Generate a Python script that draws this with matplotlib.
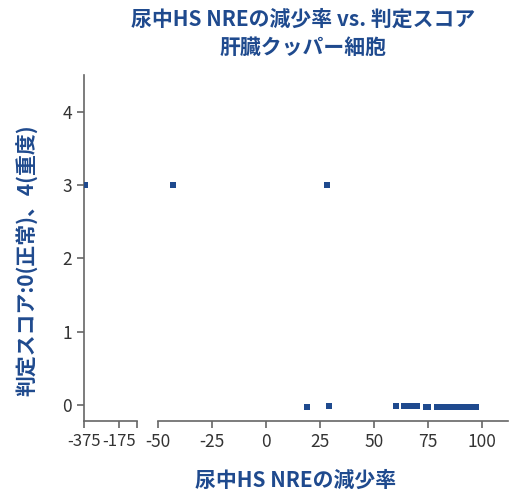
import matplotlib
matplotlib.use("Agg")
import matplotlib.pyplot as plt

plt.rcParams['font.family'] = ['Noto Sans CJK JP', 'DejaVu Sans']

title_lines = ["尿中HS NREの減少率 vs. 判定スコア", "肝臓クッパー細胞"]
x_label = "尿中HS NREの減少率"
y_label = "判定スコア:0(正常)、4(重度)"

reduction = [-370, -43, 28,
             19, 29, 60, 64, 66, 68, 70, 74, 75, 79, 81, 83, 85, 87,
             89, 91, 93, 95, 97]
score = [3, 3, 3,
         -0.03, -0.02, -0.02, -0.02, -0.02, -0.02, -0.02, -0.03, -0.03,
         -0.03, -0.03, -0.03, -0.03, -0.03, -0.03, -0.03, -0.03, -0.03, -0.03]

left_ticks = [-375, -175]
right_ticks = [-50, -25, 0, 25, 50, 75, 100]
y_ticks = [0, 1, 2, 3, 4]

blue = "#1f4a8e"
spine_c = "#666666"
tick_c = "#333333"

fig = plt.figure(figsize=(5.12, 4.97), dpi=100)
W, H = 512, 497
bottom = (H - 421) / H
height = (421 - 75) / H
axL = fig.add_axes([84 / W, bottom, (137 - 84) / W, height])
axR = fig.add_axes([158 / W, bottom, (508 - 158) / W, height])

for ax in (axL, axR):
    ax.scatter(reduction, score, marker='s', s=24, color=blue, linewidths=0, zorder=3)
    ax.set_ylim(-0.22, 4.5)
    for s in ('top', 'right'):
        ax.spines[s].set_visible(False)
    ax.spines['bottom'].set_color(spine_c)
    ax.spines['left'].set_color(spine_c)
    ax.spines['bottom'].set_linewidth(1.2)
    ax.spines['left'].set_linewidth(1.2)
    ax.tick_params(colors=spine_c, labelcolor=tick_c, labelsize=12.5, length=5, width=1.2)
    ax.patch.set_alpha(0)

axL.set_xlim(-375, -72)
axL.set_xticks(left_ticks + [-72])
axL.set_xticklabels([str(t) for t in left_ticks] + [""])
axL.tick_params(axis='x', labelsize=12)
axL.set_yticks(y_ticks)
axL.set_yticklabels([str(t) for t in y_ticks])

axR.set_xlim(-50, 112)
axR.set_xticks(right_ticks)
axR.set_xticklabels([str(t) for t in right_ticks])
axR.spines['left'].set_visible(False)
axR.tick_params(axis='y', left=False, labelleft=False)

axL.set_ylabel(y_label, color=blue, fontsize=15, fontweight='bold')
axL.yaxis.set_label_coords(-0.86, 0.465)

fig.text(303 / W, 1 - 19 / H, title_lines[0], color=blue, fontsize=15,
         ha='center', va='center', fontweight='bold')
fig.text(303 / W, 1 - 47 / H, title_lines[1], color=blue, fontsize=15,
         ha='center', va='center', fontweight='bold')
fig.text(296 / W, 1 - 480 / H, x_label, color=blue, fontsize=15,
         ha='center', va='center', fontweight='bold')

fig.savefig("out.png", dpi=100)
